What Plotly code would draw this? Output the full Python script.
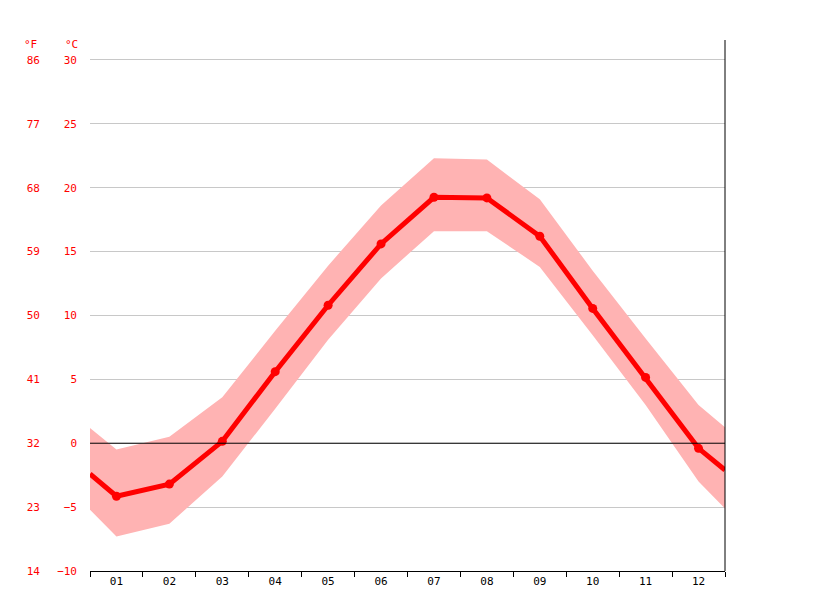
import plotly.graph_objects as go

months = [1,2,3,4,5,6,7,8,9,10,11,12]
month_labels = ["01","02","03","04","05","06","07","08","09","10","11","12"]
mean_c = [-4.15,-3.2,0.15,5.6,10.8,15.6,19.25,19.2,16.2,10.55,5.15,-0.4]
upper_c = [-0.5,0.5,3.6,8.8,13.9,18.6,22.3,22.2,19.1,13.5,8.2,3.0]
lower_c = [-7.3,-6.3,-2.6,2.7,8.1,12.9,16.6,16.6,13.8,8.45,3.0,-3.0]
# values at the chart edges (wrap between Dec and Jan)
edge_x = [0.5, 12.5]
edge_mean = [-2.4, -2.1]
edge_upper = [1.2, 1.25]
edge_lower = [-5.2, -5.1]
c_ticks = [-10,-5,0,5,10,15,20,25,30]
f_ticks = [14,23,32,41,50,59,68,77,86]

x = [edge_x[0]] + months + [edge_x[1]]
m = [edge_mean[0]] + mean_c + [edge_mean[1]]
u = [edge_upper[0]] + upper_c + [edge_upper[1]]
l = [edge_lower[0]] + lower_c + [edge_lower[1]]

red = "#ff0000"
tf = dict(color=red, size=11, family="DejaVu Sans Mono")
fig = go.Figure()
fig.add_trace(go.Scatter(x=x + x[::-1], y=u + l[::-1], fill="toself", fillcolor="#ffb3b3",
                         line=dict(width=0), hoverinfo="skip", showlegend=False))
fig.add_trace(go.Scatter(x=x, y=m, mode="lines", line=dict(color=red, width=5), showlegend=False))
fig.add_trace(go.Scatter(x=months, y=mean_c, mode="markers", marker=dict(color=red, size=9), showlegend=False))
fig.add_trace(go.Scatter(x=[1], y=[f_ticks[0]], yaxis="y2", mode="markers", marker=dict(opacity=0),
                         showlegend=False, hoverinfo="skip"))

dom0 = (90-20)/705
fig.update_layout(
    width=815, height=611, margin=dict(l=12, r=98, t=32, b=48),
    plot_bgcolor="white", paper_bgcolor="white", font=dict(family="DejaVu Sans Mono", size=11),
    xaxis=dict(domain=[dom0, 1], range=[0.5, 12.5], tickvals=months, ticktext=month_labels,
               showgrid=False, zeroline=False, showline=True, linecolor="black",
               ticks="", tickfont=dict(color="black", size=11, family="DejaVu Sans Mono"),
               minor=dict(tick0=0.5, dtick=1, ticks="outside", ticklen=5, tickcolor="black")),
    yaxis=dict(range=[-10, 31.56], tickvals=c_ticks, showgrid=True, gridcolor="#c8c8c8",
               zeroline=False, tickfont=tf, ticklabelstandoff=12),
    yaxis2=dict(range=[-10*1.8+32, 31.56*1.8+32], tickvals=f_ticks, overlaying="y", anchor="free",
                position=(40-20)/705, side="left", showgrid=False, zeroline=False, tickfont=tf),
    shapes=[dict(type="line", xref="paper", yref="paper", x0=1, x1=1, y0=0, y1=1,
                 line=dict(color="black", width=1)),
            dict(type="line", xref="paper", yref="y", x0=dom0, x1=1, y0=0, y1=0, layer="above",
                 line=dict(color="black", width=1))],
    annotations=[
        dict(text="°F", x=(22-20)/705, y=(611-40-36)/531, xref="paper", yref="paper", showarrow=False,
             font=tf, xanchor="left"),
        dict(text="°C", x=(63-20)/705, y=(611-40-36)/531, xref="paper", yref="paper", showarrow=False,
             font=tf, xanchor="left"),
    ],
)
fig.write_html("out.html")
